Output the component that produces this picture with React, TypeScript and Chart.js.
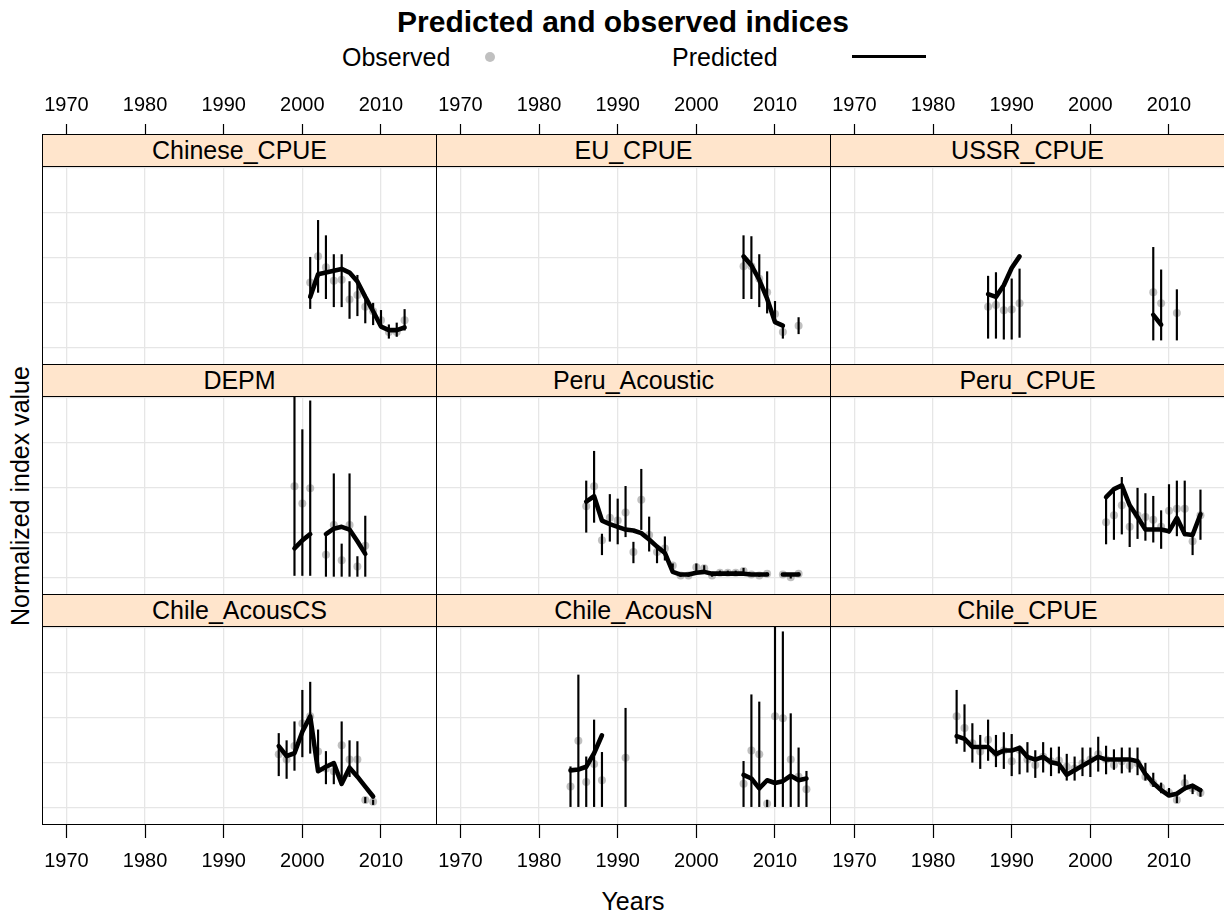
import React, { useEffect, useRef } from "react";
import { Chart, registerables } from "chart.js";
Chart.register(...registerables);

const FONT = "'Liberation Sans', Arial, Helvetica, sans-serif";

// ---------- data ----------
const panelNames = ["Chinese_CPUE", "EU_CPUE", "USSR_CPUE", "DEPM", "Peru_Acoustic", "Peru_CPUE", "Chile_AcousCS", "Chile_AcousN", "Chile_CPUE"];
const xTicks = [1970, 1980, 1990, 2000, 2010];
const xTickLabels = ["1970", "1980", "1990", "2000", "2010"];
const yGrid = [0, 0.5, 1, 1.5, 2];

const chineseYears = [2001, 2002, 2003, 2004, 2005, 2006, 2007, 2008, 2009, 2010, 2011, 2012, 2013];
const chineseObs = [0.72, 1.01, 0.89, 0.74, 0.75, 0.53, 0.58, 0.45, 0.40, 0.30, 0.17, 0.17, 0.30];
const chineseLo = [0.43, 0.61, 0.54, 0.45, 0.45, 0.32, 0.35, 0.27, 0.25, 0.23, 0.10, 0.12, 0.19];
const chineseHi = [1.00, 1.41, 1.24, 1.03, 1.03, 0.73, 0.80, 0.58, 0.49, 0.41, 0.25, 0.27, 0.42];
const chinesePred = [0.56, 0.81, 0.83, 0.85, 0.87, 0.83, 0.73, 0.56, 0.40, 0.23, 0.19, 0.19, 0.22];

const euYears = [2006, 2007, 2008, 2009, 2010, 2011, 2013];
const euObs = [0.90, 0.90, 0.76, 0.61, 0.37, 0.17, 0.24];
const euLo = [0.54, 0.54, 0.45, 0.38, 0.29, 0.10, 0.15];
const euHi = [1.24, 1.23, 1.03, 0.84, 0.51, 0.23, 0.33];
const euPred = [1.01, 0.91, 0.75, 0.54, 0.28, 0.24, null];

const ussrYears = [1987, 1988, 1989, 1990, 1991, 2008, 2009, 2011];
const ussrObs = [0.45, 0.47, 0.41, 0.42, 0.49, 0.61, 0.49, 0.38];
const ussrLo = [0.10, 0.10, 0.09, 0.09, 0.11, 0.08, 0.08, 0.08];
const ussrHi = [0.79, 0.83, 0.69, 0.76, 0.87, 1.11, 0.86, 0.64];
const ussrPred = [0.59, 0.56, 0.69, 0.88, 1.01, 0.36, 0.25, null];

const depmYears = [1999, 2000, 2001, 2003, 2004, 2005, 2006, 2007, 2008];
const depmObs = [1.01, 0.82, 0.99, 0.25, 0.58, 0.19, 0.58, 0.12, 0.35];
const depmLo = [0.02, 0.02, 0.02, 0.01, 0.01, 0.01, 0.01, 0.01, 0.01];
const depmHi = [2.3, 1.64, 1.96, 0.47, 1.15, 0.37, 1.15, 0.23, 0.68];
const depmPred = [0.32, 0.41, 0.48, 0.48, 0.54, 0.56, 0.53, 0.40, 0.26];

const peruAcYears = [1986, 1987, 1988, 1989, 1990, 1991, 1992, 1993, 1994, 1995, 1996, 1997, 1998, 1999, 2000, 2001, 2002, 2003, 2004, 2005, 2006, 2007, 2008, 2009, 2011, 2012, 2013];
const peruAcObs = [0.79, 1.01, 0.41, 0.66, 0.63, 0.72, 0.28, 0.86, 0.47, 0.28, 0.32, 0.13, 0.02, 0.02, 0.11, 0.10, 0.02, 0.05, 0.05, 0.05, 0.07, 0.03, 0.02, 0.04, 0.03, 0.00, 0.04];
const peruAcLo = [0.50, 0.61, 0.25, 0.40, 0.37, 0.45, 0.16, 0.53, 0.29, 0.16, 0.19, 0.11, 0.01, 0.01, 0.05, 0.04, 0.01, 0.03, 0.03, 0.03, 0.04, 0.02, 0.01, 0.03, 0.02, -0.01, 0.03];
const peruAcHi = [1.07, 1.40, 0.48, 0.92, 0.87, 1.01, 0.39, 1.20, 0.67, 0.34, 0.45, 0.15, 0.03, 0.03, 0.15, 0.13, 0.03, 0.07, 0.07, 0.07, 0.10, 0.04, 0.03, 0.05, 0.04, 0.01, 0.05];
const peruAcPred = [0.84, 0.90, 0.63, 0.59, 0.56, 0.53, 0.52, 0.49, 0.42, 0.34, 0.27, 0.06, 0.03, 0.03, 0.05, 0.06, 0.04, 0.04, 0.04, 0.04, 0.04, 0.03, 0.03, 0.03, 0.03, 0.03, 0.03];

const peruCpYears = [2002, 2003, 2004, 2005, 2006, 2007, 2008, 2009, 2010, 2011, 2012, 2013, 2014];
const peruCpObs = [0.61, 0.69, 0.80, 0.56, 0.69, 0.67, 0.64, 0.56, 0.74, 0.76, 0.76, 0.40, 0.69];
const peruCpLo = [0.37, 0.42, 0.48, 0.34, 0.43, 0.41, 0.39, 0.32, 0.49, 0.46, 0.46, 0.25, 0.42];
const peruCpHi = [0.90, 0.97, 1.11, 0.77, 0.99, 0.93, 0.90, 0.74, 1.03, 1.07, 1.07, 0.50, 0.97];
const peruCpPred = [0.89, 0.98, 1.02, 0.80, 0.67, 0.53, 0.53, 0.53, 0.51, 0.66, 0.48, 0.47, 0.70];

const chileCsYears = [1997, 1998, 1999, 2000, 2001, 2002, 2003, 2004, 2005, 2006, 2007, 2008, 2009];
const chileCsObs = [0.59, 0.53, 0.68, 0.93, 1.01, 0.62, 0.43, 0.40, 0.69, 0.53, 0.53, 0.08, 0.06];
const chileCsLo = [0.35, 0.32, 0.41, 0.56, 0.60, 0.45, 0.26, 0.26, 0.30, 0.34, 0.34, 0.05, 0.03];
const chileCsHi = [0.82, 0.74, 0.95, 1.30, 1.39, 0.86, 0.62, 0.51, 0.95, 0.74, 0.73, 0.11, 0.08];
const chileCsPred = [0.68, 0.57, 0.60, 0.84, 1.01, 0.40, 0.45, 0.49, 0.26, 0.44, 0.34, 0.23, 0.12];

const chileNYears = [1984, 1985, 1986, 1987, 1988, 1991, 2006, 2007, 2008, 2009, 2010, 2011, 2012, 2013, 2014];
const chileNObs = [0.23, 0.74, 0.28, 0.48, 0.30, 0.55, 0.26, 0.63, 0.59, 0.04, 1.01, 0.99, 0.53, 0.34, 0.20];
const chileNLo = [0.0, 0.0, 0.0, 0.0, 0.0, 0.0, 0.0, 0.0, 0.0, 0.0, 0.0, 0.0, 0.0, 0.0, 0.0];
const chileNHi = [0.45, 1.47, 0.56, 0.97, 0.61, 1.10, 0.51, 1.25, 1.17, 0.08, 2.3, 1.95, 1.04, 0.66, 0.40];
const chileNPred = [0.41, 0.42, 0.45, 0.60, 0.80, null, 0.36, 0.32, 0.21, 0.30, 0.27, 0.29, 0.35, 0.30, 0.32];

const chileCpYears = [1983, 1984, 1985, 1986, 1987, 1988, 1989, 1990, 1991, 1992, 1993, 1994, 1995, 1996, 1997, 1998, 1999, 2000, 2001, 2002, 2003, 2004, 2005, 2006, 2007, 2008, 2009, 2010, 2011, 2012, 2013, 2014];
const chileCpObs = [1.01, 0.88, 0.71, 0.62, 0.75, 0.60, 0.63, 0.51, 0.64, 0.53, 0.47, 0.56, 0.51, 0.52, 0.45, 0.43, 0.49, 0.53, 0.59, 0.53, 0.47, 0.51, 0.46, 0.49, 0.34, 0.27, 0.22, 0.16, 0.08, 0.27, 0.21, 0.16];
const chileCpLo = [0.71, 0.62, 0.50, 0.43, 0.52, 0.45, 0.43, 0.35, 0.37, 0.39, 0.33, 0.39, 0.35, 0.38, 0.30, 0.30, 0.35, 0.34, 0.40, 0.37, 0.42, 0.38, 0.39, 0.36, 0.30, 0.23, 0.16, 0.12, 0.05, 0.19, 0.15, 0.12];
const chileCpHi = [1.30, 1.14, 0.93, 0.80, 0.97, 0.80, 0.83, 0.81, 0.68, 0.72, 0.63, 0.72, 0.66, 0.67, 0.59, 0.56, 0.66, 0.66, 0.78, 0.68, 0.64, 0.66, 0.66, 0.66, 0.49, 0.38, 0.27, 0.21, 0.12, 0.36, 0.25, 0.21];
const chileCpPred = [0.79, 0.76, 0.67, 0.67, 0.67, 0.59, 0.63, 0.63, 0.66, 0.56, 0.53, 0.56, 0.50, 0.48, 0.36, 0.41, 0.46, 0.51, 0.56, 0.53, 0.53, 0.53, 0.53, 0.51, 0.37, 0.27, 0.19, 0.13, 0.15, 0.21, 0.24, 0.19];

const panels = [
  { name: panelNames[0], years: chineseYears, obs: chineseObs, lo: chineseLo, hi: chineseHi, pred: chinesePred },
  { name: panelNames[1], years: euYears, obs: euObs, lo: euLo, hi: euHi, pred: euPred },
  { name: panelNames[2], years: ussrYears, obs: ussrObs, lo: ussrLo, hi: ussrHi, pred: ussrPred },
  { name: panelNames[3], years: depmYears, obs: depmObs, lo: depmLo, hi: depmHi, pred: depmPred },
  { name: panelNames[4], years: peruAcYears, obs: peruAcObs, lo: peruAcLo, hi: peruAcHi, pred: peruAcPred },
  { name: panelNames[5], years: peruCpYears, obs: peruCpObs, lo: peruCpLo, hi: peruCpHi, pred: peruCpPred },
  { name: panelNames[6], years: chileCsYears, obs: chileCsObs, lo: chileCsLo, hi: chileCsHi, pred: chileCsPred },
  { name: panelNames[7], years: chileNYears, obs: chileNObs, lo: chileNLo, hi: chileNHi, pred: chileNPred },
  { name: panelNames[8], years: chileCpYears, obs: chileCpObs, lo: chileCpLo, hi: chileCpHi, pred: chileCpPred },
];

// ---------- layout ----------
const X_MIN = 1966.9;
const X_MAX = 2017.12;
const Y_MIN = -0.197;
const Y_MAX = 2.014;
const COL_LEFTS = [42, 436, 830];
const ROW_TOPS = [134, 364, 594];
const COL_W = 395;
const STRIP_H = 33;
const PANEL_H = 199;
const GRID_COLOR = "#e6e6e6";

type PanelProps = { left: number; top: number; width: number; height: number; data: typeof panels[number] };

function PanelChart({ left, top, width, height, data }: PanelProps) {
  const ref = useRef<HTMLCanvasElement>(null);
  useEffect(() => {
    const predPoints = data.years
      .map((x, i) => ({ x, y: data.pred[i] }))
      .filter((p) => p.y !== null && p.y !== undefined);
    const chart = new Chart(ref.current!, {
      type: "bar",
      data: {
        datasets: [
          {
            type: "scatter",
            data: data.years.map((x, i) => ({ x, y: data.obs[i] })),
            pointRadius: 4,
            pointBackgroundColor: "rgba(150,150,150,0.6)",
            pointBorderWidth: 0,
            order: 3,
          } as any,
          {
            type: "bar",
            data: data.years.map((x, i) => ({ x, y: [data.lo[i], data.hi[i]] })),
            backgroundColor: "#000",
            barThickness: 1.5,
            borderWidth: 0,
            grouped: false,
            order: 2,
          } as any,
          {
            type: "line",
            data: predPoints,
            borderColor: "#000",
            borderWidth: 4.6,
            pointRadius: 0,
            spanGaps: 1.5,
            tension: 0,
            borderCapStyle: "round",
            borderJoinStyle: "round",
            order: 1,
          } as any,
        ],
      },
      options: {
        animation: false,
        responsive: false,
        maintainAspectRatio: false,
        events: [],
        layout: { padding: 0, autoPadding: false },
        plugins: { legend: { display: false }, tooltip: { enabled: false }, title: { display: false } },
        scales: {
          x: {
            type: "linear",
            min: X_MIN,
            max: X_MAX,
            offset: false,
            afterBuildTicks: (axis: any) => { axis.ticks = xTicks.map((value) => ({ value })); },
            grid: { offset: false, color: GRID_COLOR, lineWidth: 1.3, drawTicks: false },
            border: { display: false },
            ticks: { display: false },
          },
          y: {
            type: "linear",
            min: Y_MIN,
            max: Y_MAX,
            afterBuildTicks: (axis: any) => { axis.ticks = yGrid.map((value) => ({ value })); },
            grid: { color: GRID_COLOR, lineWidth: 1.3, drawTicks: false },
            border: { display: false },
            ticks: { display: false },
          },
        },
      } as any,
    });
    return () => chart.destroy();
  }, []);
  return (
    <canvas ref={ref} width={width} height={height}
      style={{ position: "absolute", left, top, width, height }} />
  );
}

type AxisProps = { left: number; top: number; width: number; height: number; position: "top" | "bottom"; padding: number; tickLength: number };

function XAxisChart({ left, top, width, height, position, padding, tickLength }: AxisProps) {
  const ref = useRef<HTMLCanvasElement>(null);
  useEffect(() => {
    const chart = new Chart(ref.current!, {
      type: "scatter",
      data: { datasets: [] },
      options: {
        animation: false,
        responsive: false,
        maintainAspectRatio: false,
        events: [],
        layout: { padding: 0, autoPadding: false },
        plugins: { legend: { display: false }, tooltip: { enabled: false } },
        scales: {
          x: {
            type: "linear",
            position,
            min: X_MIN,
            max: X_MAX,
            offset: false,
            afterBuildTicks: (axis: any) => { axis.ticks = xTicks.map((value) => ({ value })); },
            afterFit: (axis: any) => { axis.paddingLeft = 0; axis.paddingRight = 0; },
            grid: { offset: false, drawOnChartArea: false, drawTicks: true, tickLength, tickColor: "#000", tickWidth: 1.2 },
            border: { display: false },
            ticks: {
              autoSkip: false,
              maxRotation: 0,
              minRotation: 0,
              padding,
              color: "#000",
              font: { family: FONT, size: 20 },
              callback: (_v: any, i: number) => xTickLabels[i],
            },
          },
          y: { display: false, min: 0, max: 1 },
        },
      } as any,
    });
    return () => chart.destroy();
  }, []);
  return (
    <canvas ref={ref} width={width} height={height}
      style={{ position: "absolute", left, top, width, height }} />
  );
}

export default function App() {
  return (
    <div style={{ position: "absolute", left: 0, top: 0, width: 1224, height: 918, background: "#fff", overflow: "hidden", fontFamily: FONT, color: "#000" }}>
      {/* title */}
      <div style={{ position: "absolute", left: 0, top: 4, width: 1246, textAlign: "center", fontSize: 30, fontWeight: "bold", lineHeight: "36px" }}>
        Predicted and observed indices
      </div>
      {/* legend */}
      <div style={{ position: "absolute", left: 342, top: 42, fontSize: 25, lineHeight: "30px", whiteSpace: "nowrap" }}>Observed</div>
      <div style={{ position: "absolute", left: 485, top: 52, width: 10, height: 10, borderRadius: 5, background: "#c0c0c0" }} />
      <div style={{ position: "absolute", left: 672, top: 42, fontSize: 25, lineHeight: "30px", whiteSpace: "nowrap" }}>Predicted</div>
      <div style={{ position: "absolute", left: 852, top: 55, width: 74, height: 3, background: "#000" }} />

      {/* axes (canvas is twice the scale height so Chart.js gives the axis its full size) */}
      {COL_LEFTS.map((l) => (
        <XAxisChart key={"t" + l} left={l} top={91} width={COL_W} height={90} position="top" padding={7} tickLength={12} />
      ))}
      {COL_LEFTS.map((l) => (
        <XAxisChart key={"b" + l} left={l} top={775} width={COL_W} height={100} position="bottom" padding={11} tickLength={13} />
      ))}

      {/* panels */}
      {panels.map((p, i) => {
        const r = Math.floor(i / 3);
        const c = i % 3;
        const left = COL_LEFTS[c];
        const top = ROW_TOPS[r];
        return (
          <React.Fragment key={p.name}>
            <PanelChart left={left} top={top + STRIP_H - 1} width={COL_W} height={PANEL_H} data={p} />
            <div style={{ position: "absolute", left, top: top + STRIP_H - 1, width: COL_W, height: PANEL_H, border: "1px solid #000", boxSizing: "border-box", pointerEvents: "none" }} />
            <div style={{ position: "absolute", left, top, width: COL_W, height: STRIP_H, background: "#ffe5cc", border: "1px solid #000", boxSizing: "border-box", textAlign: "center", fontSize: 25, lineHeight: "30px", whiteSpace: "nowrap" }}>
              {p.name}
            </div>
          </React.Fragment>
        );
      })}

      {/* axis labels */}
      <div style={{ position: "absolute", left: 20, top: 496, transform: "translate(-50%, -50%) rotate(-90deg)", fontSize: 25, lineHeight: "30px", whiteSpace: "nowrap" }}>
        Normalized index value
      </div>
      <div style={{ position: "absolute", left: 633, top: 901, transform: "translate(-50%, -50%)", fontSize: 25, lineHeight: "30px", whiteSpace: "nowrap" }}>
        Years
      </div>
    </div>
  );
}
